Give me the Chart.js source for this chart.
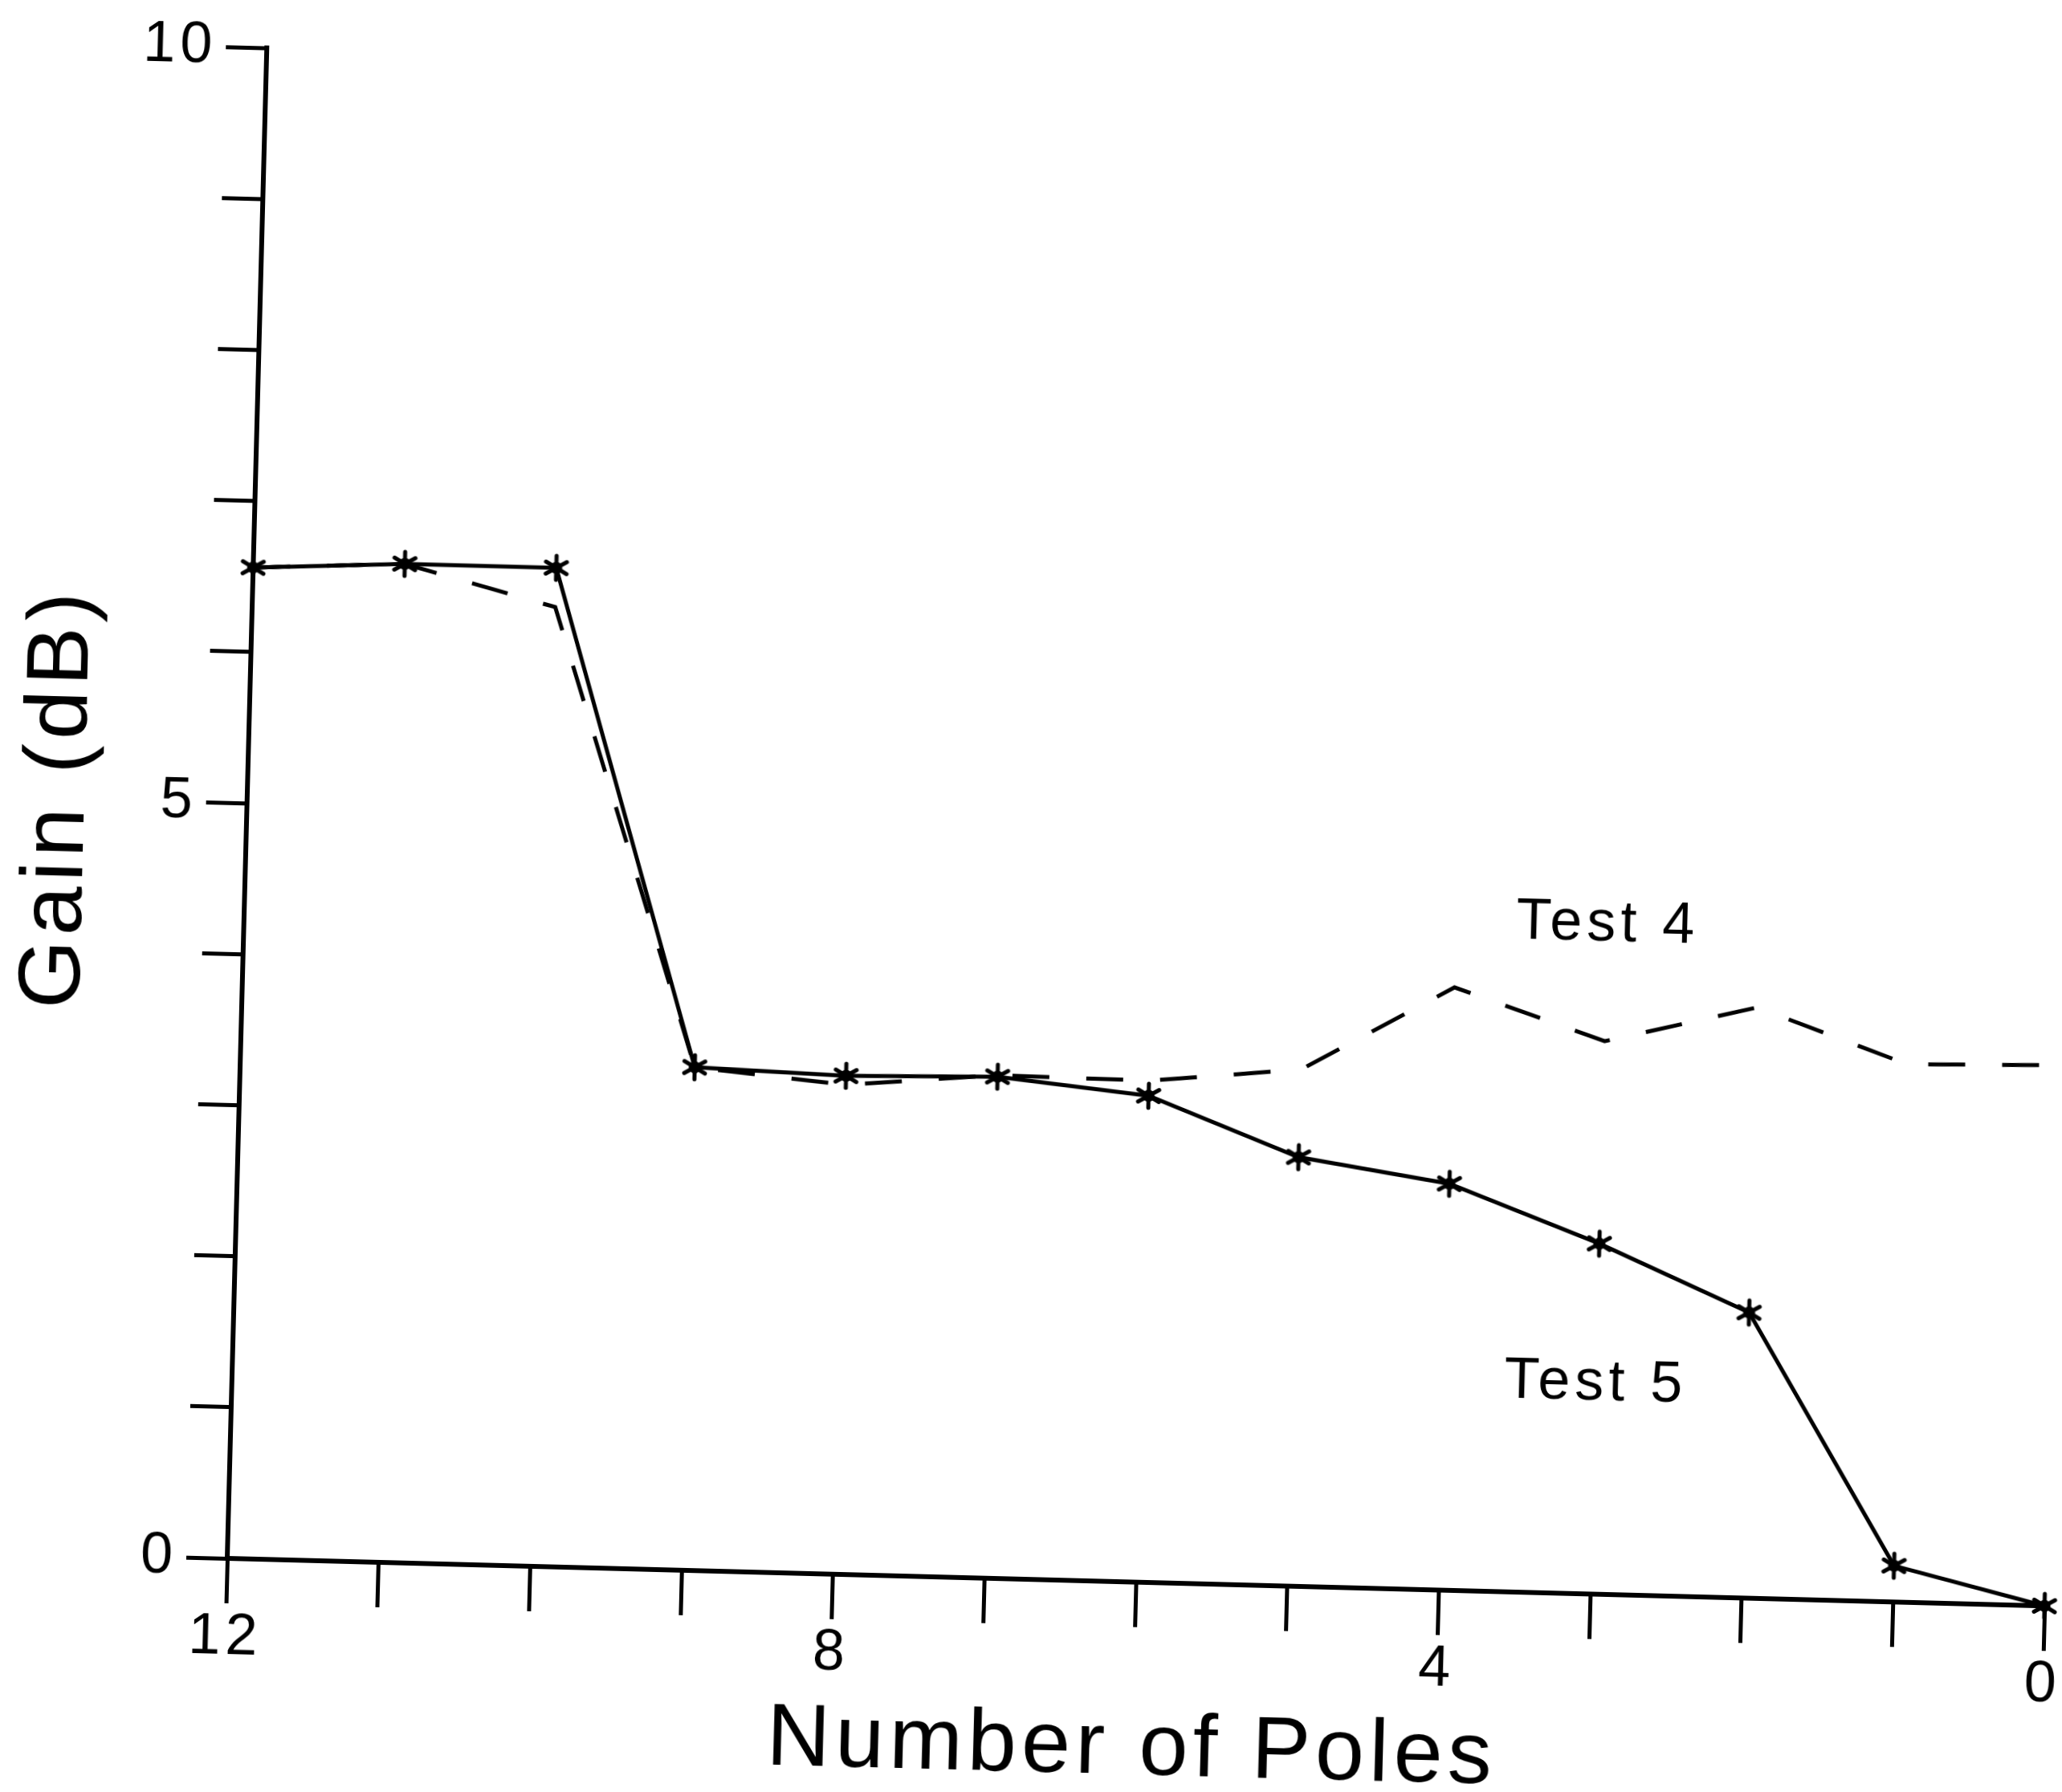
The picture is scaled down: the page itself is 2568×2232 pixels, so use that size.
<!DOCTYPE html>
<html>
<head>
<meta charset="utf-8">
<title>Gain vs Number of Poles</title>
<script src="https://cdn.jsdelivr.net/npm/chart.js@4.4.1/dist/chart.umd.min.js"></script>
<style>
  html, body { margin: 0; width: 2568px; height: 2232px; overflow: hidden; background: #fff; }
  /* the sheet sits slightly turned; pivot on the plot origin */
  #plot { position: absolute; left: -60px; top: 0; transform-origin: 343px 1941px; transform: rotate(1.5deg); }
</style>
</head>
<body>
<canvas id="plot" width="2668" height="2300"></canvas>
<script>
// gain (dB) against number of poles kept, 12 down to 0
const poles = [12, 11, 10, 9, 8, 7, 6, 5, 4, 3, 2, 1, 0];
const test4Gain = [6.56, 6.61, 6.35, 3.33, 3.24, 3.33, 3.32, 3.42, 3.99, 3.66, 3.91, 3.56, 3.58];
const test5Gain = [6.56, 6.61, 6.61, 3.33, 3.30, 3.32, 3.22, 2.84, 2.69, 2.32, 1.89, 0.24, 0.0];

const xLabelled = [12, 8, 4, 0];
const yLabelled = [0, 5, 10];

// curve names and where they are written, in (poles, dB)
const curveNames = ["Test 4", "Test 5"];
const namePoles = [3, 3];
const nameGain = [4.43, 1.39];

const INK = "#000";
const FONT = '"Liberation Sans", Arial, sans-serif';
Chart.defaults.font.family = FONT;
Chart.defaults.color = INK;

// six-spoke asterisk used as the point marker
function asterisk(r, lw) {
  const c = document.createElement("canvas");
  c.width = c.height = 2 * r + 2 * lw;
  const g = c.getContext("2d");
  const m = c.width / 2;
  g.strokeStyle = INK;
  g.lineWidth = lw;
  g.lineCap = "round";
  for (const deg of [90, 30, -30]) {
    const a = (deg * Math.PI) / 180;
    g.beginPath();
    g.moveTo(m - r * Math.cos(a), m - r * Math.sin(a));
    g.lineTo(m + r * Math.cos(a), m + r * Math.sin(a));
    g.stroke();
  }
  g.beginPath();
  g.arc(m, m, lw * 1.5, 0, 2 * Math.PI);
  g.fillStyle = INK;
  g.fill();
  return c;
}

const wideText = {
  id: "wideText",
  beforeDraw(chart) {
    chart.ctx.letterSpacing = "6px";
  },
};

const curveLabels = {
  id: "curveLabels",
  afterDatasetsDraw(chart) {
    const { ctx, scales } = chart;
    ctx.save();
    ctx.font = "72px " + FONT;
    ctx.fillStyle = INK;
    ctx.textAlign = "center";
    ctx.textBaseline = "middle";
    curveNames.forEach((t, i) => {
      ctx.fillText(t, scales.x.getPixelForValue(namePoles[i]), scales.y.getPixelForValue(nameGain[i]));
    });
    ctx.restore();
  },
};

const toPoints = (ys) => poles.map((p, i) => ({ x: p, y: ys[i] }));

new Chart(document.getElementById("plot"), {
  type: "line",
  data: {
    datasets: [
      {
        label: curveNames[0],
        data: toPoints(test4Gain),
        borderColor: INK,
        borderWidth: 5,
        borderDash: [46, 46],
        pointRadius: 0,
        tension: 0,
        clip: false,
      },
      {
        label: curveNames[1],
        data: toPoints(test5Gain),
        borderColor: INK,
        borderWidth: 5,
        pointStyle: asterisk(15, 5),
        pointRadius: 15,
        tension: 0,
        clip: false,
      },
    ],
  },
  options: {
    responsive: false,
    animation: false,
    devicePixelRatio: 1,
    layout: { padding: { left: 44, right: 61, top: 59, bottom: 84 } },
    plugins: { legend: { display: false }, tooltip: { enabled: false } },
    scales: {
      x: {
        type: "linear",
        reverse: true,
        min: 0,
        max: 12,
        afterFit: (s) => { s.height = 275; },
        border: { color: INK, width: 6 },
        grid: { drawOnChartArea: false, tickLength: 56, tickWidth: 5, tickColor: INK, color: INK },
        ticks: {
          stepSize: 1,
          autoSkip: false,
          maxRotation: 0,
          padding: 0,
          color: INK,
          font: { size: 72 },
          callback: (v) => (xLabelled.includes(v) ? String(v) : ""),
        },
        title: { display: true, text: "Number of Poles", color: INK, font: { size: 110 }, padding: 0 },
      },
      y: {
        min: 0,
        max: 10,
        afterFit: (s) => { s.width = 299; },
        border: { color: INK, width: 6 },
        grid: { drawOnChartArea: false, tickLength: 51, tickWidth: 5, tickColor: INK, color: INK },
        ticks: {
          stepSize: 1,
          autoSkip: false,
          padding: 11,
          color: INK,
          font: { size: 72 },
          callback: (v) => (yLabelled.includes(v) ? String(v) : ""),
        },
        title: { display: true, text: "Gain (dB)", color: INK, font: { size: 110 }, padding: 0 },
      },
    },
  },
  plugins: [wideText, curveLabels],
});
</script>
</body>
</html>
